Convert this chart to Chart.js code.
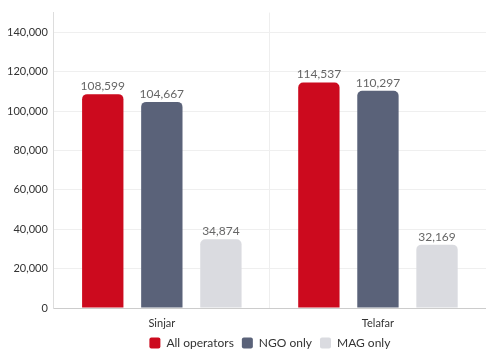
<!DOCTYPE html>
<html>
<head>
<meta charset="utf-8">
<script src="https://cdn.jsdelivr.net/npm/chart.js@4.4.0/dist/chart.umd.min.js"></script>
<style>
  html, body { margin: 0; padding: 0; background: #fff; }
  #wrap { width: 486px; height: 350px; }
</style>
</head>
<body>
<div id="wrap"><canvas id="barChart"></canvas></div>
<script>
var categories = ['Sinjar', 'Telafar'];
var allOperators = [108599, 114537];
var ngoOnly = [104667, 110297];
var magOnly = [34874, 32169];
var yTicks = [0, 20000, 40000, 60000, 80000, 100000, 120000, 140000];

var fontName = "Lato, 'Open Sans', sans-serif";

// write the value above every bar
var valueLabels = {
  id: 'valueLabels',
  afterDatasetsDraw: function (chart) {
    var ctx = chart.ctx;
    ctx.save();
    ctx.font = '12px ' + fontName;
    ctx.fillStyle = '#666';
    ctx.textAlign = 'center';
    ctx.textBaseline = 'bottom';
    chart.data.datasets.forEach(function (ds, i) {
      chart.getDatasetMeta(i).data.forEach(function (bar, j) {
        ctx.fillText(ds.data[j].toLocaleString('en-US'), bar.x, bar.y - 2);
      });
    });
    ctx.restore();
  }
};

var radius = { topLeft: 5, topRight: 5, bottomLeft: 0, bottomRight: 0 };

var ctx = document.getElementById('barChart').getContext('2d');
var barChart = new Chart(ctx, {
  type: 'bar',
  data: {
    labels: categories,
    datasets: [
      { label: 'All operators', data: allOperators, backgroundColor: '#cc0a1e', borderRadius: radius, borderSkipped: false },
      { label: 'NGO only', data: ngoOnly, backgroundColor: '#5a6279', borderRadius: radius, borderSkipped: false },
      { label: 'MAG only', data: magOnly, backgroundColor: '#dadbe0', borderRadius: radius, borderSkipped: false }
    ]
  },
  options: {
    responsive: true,
    maintainAspectRatio: false,
    animation: false,
    categoryPercentage: 0.82,
    barPercentage: 0.7,
    layout: { padding: { top: 12, left: 1, right: 0, bottom: -9 } },
    plugins: {
      tooltip: { enabled: false },
      legend: {
        position: 'bottom',
        fullSize: false,
        labels: {
          boxWidth: 11,
          boxHeight: 11,
          padding: 8,
          color: '#333',
          useBorderRadius: true,
          borderRadius: 2,
          font: { family: fontName, size: 12 }
        }
      }
    },
    scales: {
      x: {
        afterFit: function (axis) { axis.height = 21; },
        grid: { offset: true, color: '#eeeeee', drawTicks: false },
        border: { color: '#cccccc' },
        ticks: { color: '#333', padding: 9, font: { family: fontName, size: 11 } }
      },
      y: {
        min: 0,
        max: 150000,
        afterBuildTicks: function (axis) {
          axis.ticks = yTicks.map(function (v) { return { value: v }; });
        },
        grid: { color: '#efefef', drawTicks: false },
        border: { color: '#dddddd' },
        ticks: {
          color: '#333',
          padding: 6,
          font: { family: fontName, size: 11 },
          callback: function (v) { return v.toLocaleString('en-US'); }
        }
      }
    }
  },
  plugins: [valueLabels]
});
</script>
</body>
</html>
